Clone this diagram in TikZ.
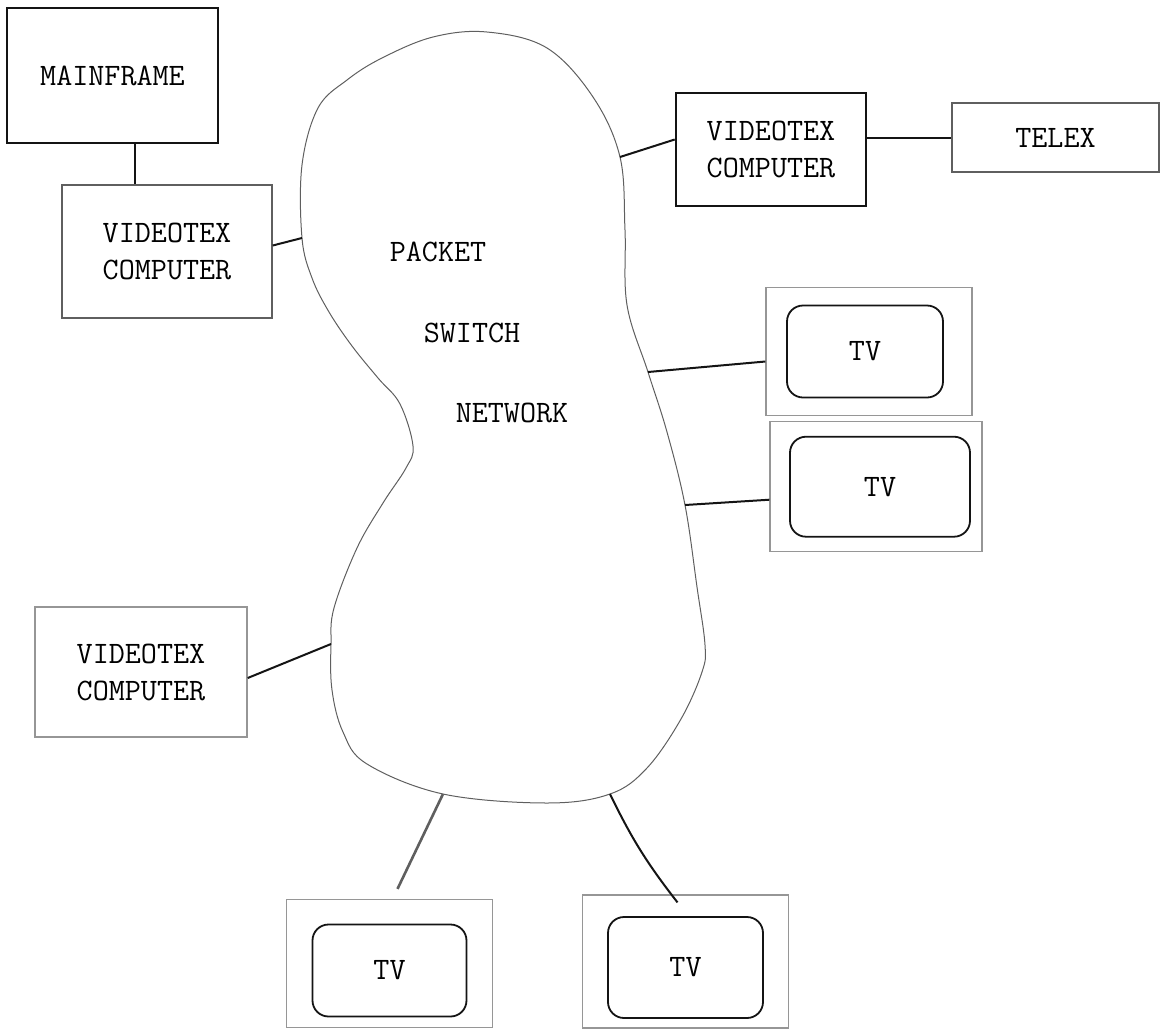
\documentclass[tikz,border=0pt]{standalone}
\usepackage{fontspec}
\usepackage{xcolor}
\definecolor{ink}{RGB}{20,20,20}
\definecolor{pencil}{RGB}{95,95,95}
\definecolor{faint}{RGB}{150,150,150}
\usepackage{tikz}
\usetikzlibrary{positioning}

\begin{document}
\begin{tikzpicture}[
  x=0.5pt,y=-0.5pt,
  every node/.style={font=\fontsize{15.6}{18.5}\selectfont\ttfamily,
                     align=center,inner sep=0pt},
  heavy/.style={rectangle,draw=ink,line width=1.3pt},
  light/.style={rectangle,draw=pencil,line width=0.7pt},
  tvframe/.style={rectangle,draw=faint,line width=0.6pt,
                  minimum width=103pt,minimum height=64pt},
  screen/.style={rectangle,rounded corners=8pt,draw=ink,line width=0.9pt,
                 minimum width=78pt,minimum height=46pt},
  wire/.style={draw=ink,line width=1pt},
  cloud/.style={draw=pencil,line width=0.5pt},
]
  \useasboundingbox (0,0) rectangle (1164,1030);

  \node[heavy,minimum width=105.5pt,minimum height=67.5pt](MF) at (112.5,75.5) {MAINFRAME};
  \node[light,minimum width=105pt,minimum height=66.5pt](C1) at (167,251.5)
    {VIDEOTEX\\COMPUTER};
  \node[heavy,minimum width=95pt,minimum height=56.5pt](C2) at (771,149.5)
    {VIDEOTEX\\COMPUTER};
  \node[light,minimum width=103.5pt,minimum height=34.5pt,
        right=42pt of C2,yshift=6pt](TX) {TELEX};
  \node[light,draw=faint,minimum width=106pt,minimum height=65pt](C3) at (141,672)
    {VIDEOTEX\\COMPUTER};

  \node[tvframe](TV1) at (869,351.5) {};
  \node[screen](S1) at ([xshift=-2pt]TV1.center) {TV};
  \node[tvframe,minimum width=106pt,minimum height=65pt,
        below=2.5pt of TV1,xshift=3.5pt](TV2) {};
  \node[screen,minimum width=90pt,minimum height=50pt](S2) at ([xshift=2pt]TV2.center) {TV};
  \node[tvframe](TV3) at (389.5,963.5) {};
  \node[screen,minimum width=77pt](S3) at ([yshift=-3.5pt]TV3.center) {TV};
  \node[tvframe,minimum height=66.5pt](TV4) at (685.5,961.5) {};
  \node[screen,minimum width=77.5pt,minimum height=50.5pt](S4) at ([yshift=-3pt]TV4.center) {TV};

  \coordinate (pC1) at (302,238);
  \coordinate (pC2) at (620,157);
  \coordinate (pT1) at (648,372);
  \coordinate (pT2) at (685,505);
  \coordinate (pC3) at (331,644);
  \coordinate (pT3) at (443,794);
  \coordinate (pT4) at (610,794);

  \draw[cloud] plot[smooth cycle,tension=0.6] coordinates {
    (487,32) (547,48) (593,97) (pC2) (625,230) (627,305) (pT1) (667,432)
    (pT2) (697,587) (705,645) (702,672) (681,719) (647,768) (pT4) (547,803)
    (pT3) (367,764) (343,732) (332,690) (pC3) (334,608) (357,548) (383,503)
    (406,468) (413,446) (400,404) (378,378) (352,346) (329,312) (312,278)
    (pC1) (302,165) (318,108) (347,80) (382,58) (433,37)};

  \node at (438,252) {PACKET};
  \node at (472,333) {SWITCH};
  \node at (512,413) {NETWORK};

  \draw[wire] ([xshift=11pt]MF.south) -- ([xshift=11pt]MF.south |- C1.north);
  \draw[wire] ([yshift=3pt]C1.east) -- (pC1);
  \draw[wire] (pC2) -- ([yshift=5pt]C2.west);
  \draw[wire] (TX.west -| C2.east) -- (TX.west);
  \draw[wire] (pT1) -- ([yshift=-5pt]TV1.west);
  \draw[wire] (pT2) -- ([yshift=-6.5pt]TV2.west);
  \draw[wire] ([yshift=-3pt]C3.east) -- (pC3);
  \draw[wire,draw=pencil,line width=1.3pt] (pT3) -- ([xshift=4pt,yshift=5pt]TV3.north);
  \draw[wire] (pT4) to[bend right=6] ([xshift=-4pt,yshift=-4pt]TV4.north);
\end{tikzpicture}
\end{document}
